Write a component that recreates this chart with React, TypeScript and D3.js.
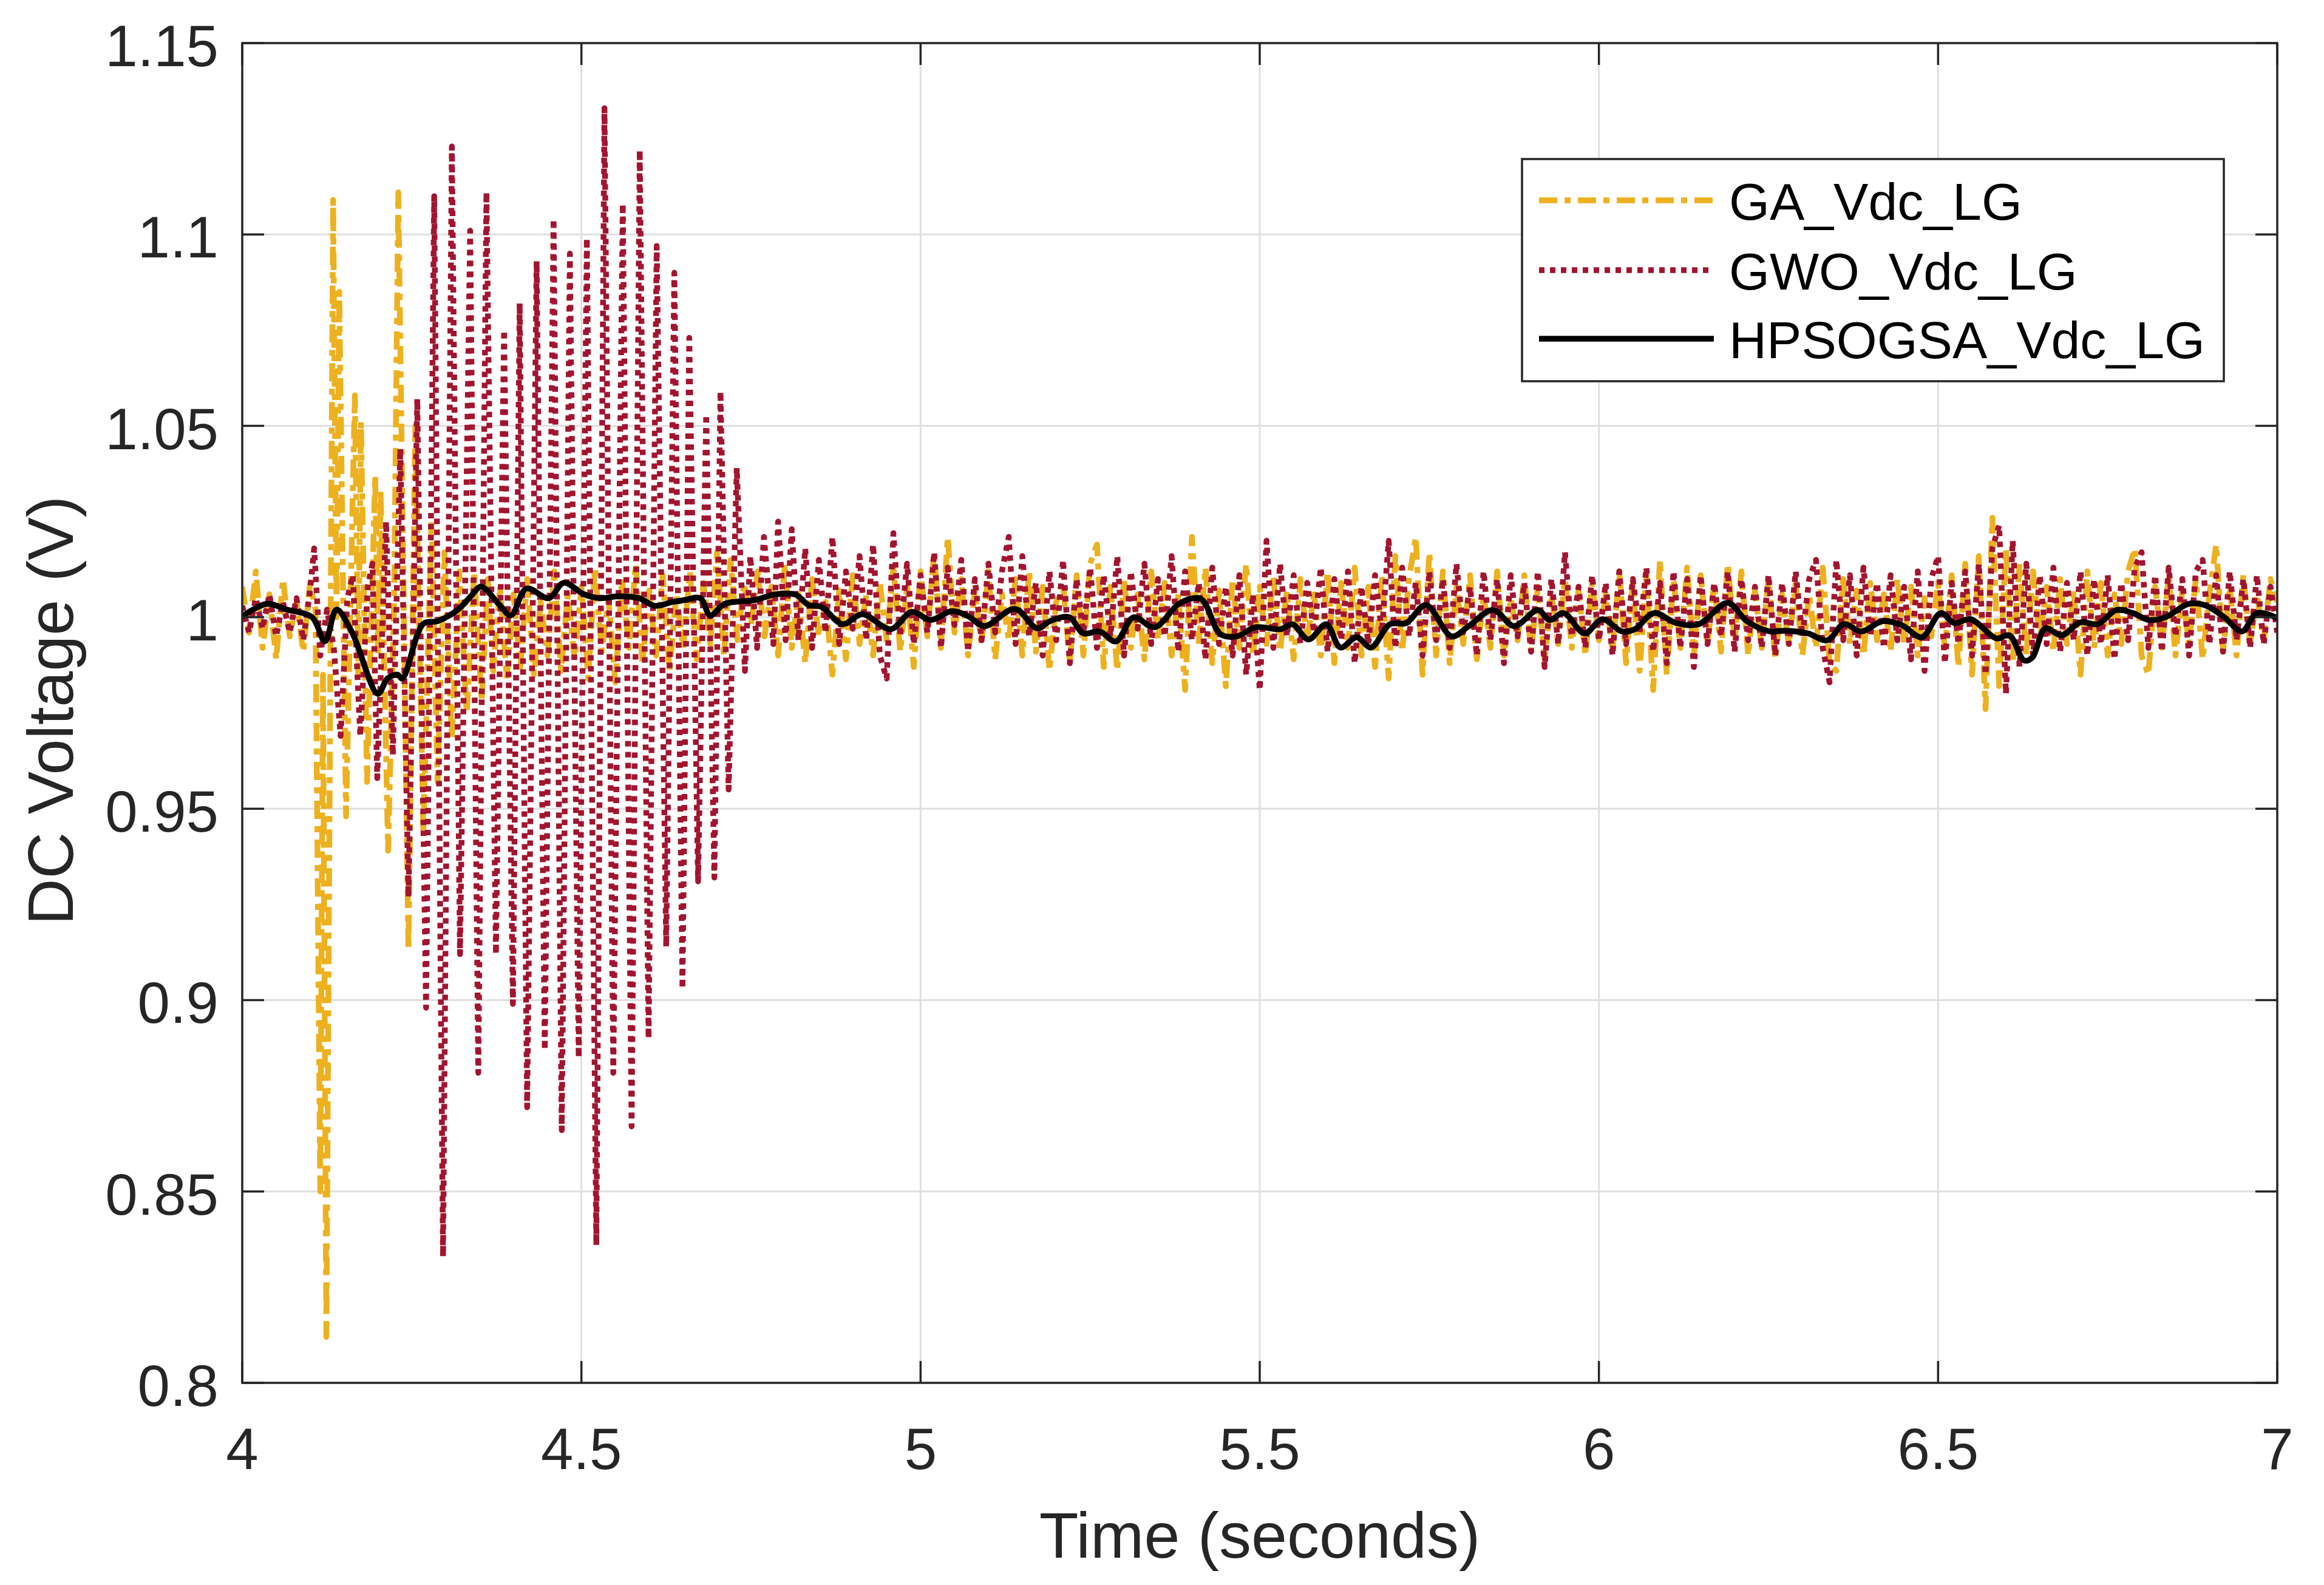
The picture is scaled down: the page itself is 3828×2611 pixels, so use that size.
import * as d3 from "d3";

// ---- axis ticks ----
const xTicks = [4, 4.5, 5, 5.5, 6, 6.5, 7];
const xTickLabels = ["4", "4.5", "5", "5.5", "6", "6.5", "7"];
const yTicks = [0.8, 0.85, 0.9, 0.95, 1, 1.05, 1.1, 1.15];
const yTickLabels = ["0.8", "0.85", "0.9", "0.95", "1", "1.05", "1.1", "1.15"];

const seriesNames = ["GA_Vdc_LG", "GWO_Vdc_LG", "HPSOGSA_Vdc_LG"];

// ---- GA (yellow, dash-dot) ----
// first part read point by point [time, volts]
const gaHead: [number, number][] = [
  [4.0, 1.008], [4.01, 0.996], [4.02, 1.012], [4.03, 0.992], [4.04, 1.006], [4.05, 0.989],
  [4.06, 1.01], [4.07, 0.995], [4.08, 1.004], [4.09, 0.991], [4.1, 1.009], [4.108, 1.002],
  [4.115, 0.85], [4.119, 0.985], [4.124, 0.812], [4.134, 1.109], [4.139, 1.0], [4.143, 1.085],
  [4.153, 0.948], [4.166, 1.058], [4.171, 0.985], [4.175, 1.051], [4.184, 0.957], [4.196, 1.037],
  [4.2, 0.99], [4.204, 1.033], [4.215, 0.939], [4.224, 1.005], [4.23, 1.111], [4.245, 0.913],
  [4.255, 1.05], [4.267, 0.944], [4.279, 1.025], [4.288, 0.957], [4.298, 1.017], [4.309, 0.968],
  [4.32, 1.012], [4.331, 0.975], [4.342, 1.012], [4.353, 0.978], [4.362, 1.01],
];
// rest sampled every 10 ms from 4.37 s to 7.00 s
const gaTailSpan: [number, number] = [4.37, 7.0];
const gaTail: number[] = [
  0.986, 1.008, 0.984, 1.006, 0.987, 1.01, 0.985, 1.004, 0.99, 1.012,
  0.986, 1.006, 0.989, 1.008, 0.984, 1.013, 0.991, 1.005, 0.983, 1.01,
  0.992, 1.014, 0.988, 1.007, 0.99, 1.011, 0.986, 1.006, 0.992, 1.012,
  0.989, 1.009, 0.993, 1.017, 0.99, 1.015, 0.994, 1.009, 0.998,
  1.012, 0.995, 1.008, 0.99, 1.014, 0.992, 1.006, 0.988, 1.01, 0.995,
  1.004, 0.985, 1.007, 0.989, 1.011, 0.993, 1.006, 0.99, 1.009, 0.994,
  1.013, 0.991, 1.008, 0.987, 1.012, 0.995, 1.017, 0.992, 1.021, 0.996,
  1.01, 0.99, 1.007, 0.993, 1.012, 0.989, 1.006, 0.994, 1.01, 0.99,
  1.012, 0.991, 1.008, 0.986, 1.004, 1.009, 0.988, 1.011, 0.99, 1.014,
  1.019, 0.987, 1.008, 0.986, 1.01, 0.992, 1.006, 0.989, 1.012, 0.994,
  1.009, 0.99, 1.006, 0.981, 1.021, 0.993, 1.013, 0.988, 1.007, 0.982,
  1.01, 0.992, 1.014, 0.99, 1.008,
  0.993, 1.011, 0.991, 1.007, 0.989, 1.01, 0.994, 1.006, 0.99, 1.012,
  0.988, 1.009, 0.992, 1.013, 0.99, 1.008, 0.987, 1.011, 0.984, 1.016,
  0.991, 1.01, 1.021, 0.985, 1.017, 0.99, 1.012, 0.988, 1.008, 0.993,
  1.011, 0.989, 1.006, 0.992, 1.012, 0.99, 1.005, 0.994, 1.011, 0.991,
  1.008, 0.989, 1.006, 0.993, 1.01, 0.992, 1.007, 0.99, 1.009, 0.994,
  1.006, 0.991, 1.012, 0.988, 1.009, 0.986, 1.011, 0.981, 1.015, 0.985,
  1.01, 0.992, 1.013, 0.99, 1.011, 0.993, 1.009, 0.991, 1.014, 0.994,
  1.012, 0.99, 1.007, 0.992, 1.01, 0.989, 1.006,
  0.993, 1.009, 0.99, 1.006, 0.992, 1.013, 0.988, 0.986, 1.01, 0.993,
  1.007, 0.99, 1.009, 0.994, 1.006, 0.991, 1.01, 0.993, 1.008, 0.99,
  1.005, 0.995, 1.009, 0.992, 1.011, 0.987, 1.014, 0.985, 1.016, 0.976,
  1.026, 0.982, 1.018, 0.988, 1.014, 0.99, 1.012, 0.994, 1.008, 0.991,
  1.01, 0.993, 1.007, 0.985, 1.012, 0.992, 1.009, 0.99, 1.006, 0.993,
  1.012, 1.018, 0.99, 0.985, 1.008, 0.992, 1.011, 0.99, 1.007, 0.993,
  1.01, 0.989, 1.006, 1.019, 0.991, 1.008, 0.99, 1.011, 0.993, 1.006,
  0.994, 1.01, 1.004,
];

// ---- GWO (red, dotted) ----
const gwoHead: [number, number][] = [
  [4.0, 1.003], [4.01, 0.996], [4.02, 1.005], [4.03, 0.997], [4.04, 1.006], [4.05, 0.995],
  [4.06, 1.004], [4.07, 0.996], [4.08, 1.005], [4.09, 0.994], [4.1, 1.007], [4.106, 1.018],
  [4.115, 0.99], [4.125, 1.002], [4.135, 0.992], [4.145, 0.969], [4.155, 1.005], [4.163, 1.011],
  [4.174, 0.969], [4.185, 1.008], [4.192, 1.014], [4.199, 0.958], [4.212, 1.025], [4.222, 0.964],
  [4.233, 1.044], [4.245, 0.927], [4.258, 1.057], [4.271, 0.898], [4.283, 1.11], [4.296, 0.833],
  [4.309, 1.123], [4.321, 0.912], [4.336, 1.101], [4.348, 0.881], [4.36, 1.111], [4.374, 0.912],
  [4.386, 1.075], [4.399, 0.899], [4.409, 1.082], [4.42, 0.872], [4.434, 1.093], [4.446, 0.887],
  [4.459, 1.104], [4.471, 0.866], [4.483, 1.095], [4.496, 0.885], [4.508, 1.099], [4.522, 0.836],
  [4.534, 1.133], [4.547, 0.881], [4.561, 1.108], [4.574, 0.867], [4.586, 1.122], [4.599, 0.89],
  [4.611, 1.097], [4.625, 0.914], [4.637, 1.09], [4.649, 0.903], [4.659, 1.073], [4.672, 0.931],
  [4.684, 1.053], [4.696, 0.932], [4.705, 1.059], [4.717, 0.955], [4.729, 1.039], [4.741, 0.986],
  [4.749, 1.016], [4.759, 0.992], [4.769, 1.021], [4.783, 0.993], [4.79, 1.025], [4.801, 0.994],
  [4.81, 1.023],
];
const gwoTailSpan: [number, number] = [4.82, 7.0];
const gwoTail: number[] = [
  0.994, 1.018, 0.992, 1.015, 0.996, 1.021, 0.993, 1.012, 0.997, 1.016,
  0.994, 1.019, 0.99, 0.984, 1.022, 0.995, 1.014, 0.993, 1.011, 0.996,
  1.017, 0.992, 1.013, 0.998, 1.015, 0.991, 1.01, 0.994, 1.014, 0.996,
  1.012, 1.021, 0.993, 1.016, 0.995, 1.009, 0.99, 1.012, 0.994, 1.015,
  0.988, 1.01, 0.996, 1.013, 0.992, 1.011, 0.995, 1.016, 0.99, 1.012,
  0.997, 1.014, 0.993, 1.01, 0.995, 1.016, 0.991, 1.012, 0.994, 1.009,
  0.989, 1.013, 0.993, 1.008, 0.99, 1.011, 0.985, 1.006, 0.981, 1.02,
  0.992, 1.014, 0.995, 1.011, 0.993, 1.009, 0.996, 1.013, 0.991, 1.01,
  0.994, 1.012, 0.988, 1.008, 0.993, 1.011, 0.996, 1.02, 0.992, 1.013,
  0.995, 1.009, 0.99, 1.012, 0.994, 1.01, 0.992, 1.014, 0.996, 1.008,
  0.99, 1.012, 0.994, 1.01, 0.988, 1.011, 0.995, 1.009, 0.991, 1.012,
  0.987, 1.01, 0.993, 1.017, 0.995, 1.008, 0.992, 1.011, 0.994, 1.009,
  0.99, 1.012, 0.993, 1.01, 0.996, 1.013, 0.991, 1.009, 0.988, 1.012,
  0.992, 1.01, 0.987, 1.011, 0.993, 1.009, 0.995, 1.012, 0.991, 1.01,
  0.994, 1.008, 0.992, 1.011, 0.99, 1.009, 0.993, 1.012, 0.995, 1.01,
  1.015, 0.992, 0.983, 1.015, 0.994, 1.011, 0.99, 1.013, 0.995, 1.009,
  0.992, 1.011, 0.994, 1.008, 0.989, 1.012, 0.986, 1.01, 1.016, 0.988,
  1.009, 0.993, 1.012, 0.99, 1.014, 0.985, 1.018, 1.024, 0.98, 1.02,
  0.987, 1.014, 0.99, 1.011, 0.993, 1.013, 0.991, 1.009, 0.994, 1.012,
  0.99, 1.01, 0.993, 1.011, 0.989, 1.009, 0.994, 1.013, 1.017, 0.992,
  1.011, 0.991, 1.013, 0.995, 1.01, 0.99, 1.012, 1.015, 0.993, 1.011,
  0.991, 1.012, 0.994, 1.01, 0.992, 1.011, 0.993, 1.008, 0.996,
];

// ---- HPSOGSA (black, solid) ----
const hpsoPoints: [number, number][] = [
  [4.0, 1.0002], [4.036, 1.0035], [4.066, 1.002], [4.103, 1.0], [4.122, 0.9937], [4.139, 1.002],
  [4.162, 0.996], [4.2, 0.98], [4.214, 0.984], [4.229, 0.985], [4.236, 0.984], [4.267, 0.9983],
  [4.288, 0.999], [4.318, 1.002], [4.337, 1.0055], [4.352, 1.008], [4.378, 1.0035], [4.396, 1.0005],
  [4.419, 1.0075], [4.452, 1.005], [4.474, 1.009], [4.504, 1.006], [4.526, 1.005], [4.556, 1.0055],
  [4.585, 1.005], [4.608, 1.003], [4.634, 1.004], [4.652, 1.0045], [4.675, 1.005], [4.69, 1.0005],
  [4.711, 1.0035], [4.756, 1.0045], [4.786, 1.006], [4.816, 1.0059], [4.835, 1.0032], [4.854, 1.0027],
  [4.885, 0.9982], [4.914, 1.0008], [4.956, 0.9969], [4.987, 1.0014], [5.015, 0.9993], [5.046, 1.0016],
  [5.07, 1.0003], [5.094, 0.9977], [5.139, 1.0022], [5.172, 0.9971], [5.191, 0.999], [5.219, 1.0],
  [5.24, 0.9958], [5.264, 0.9963], [5.288, 0.9937], [5.314, 1.0], [5.345, 0.9974], [5.383, 1.0038],
  [5.413, 1.0048], [5.442, 0.9956], [5.466, 0.995], [5.494, 0.9974], [5.531, 0.9969], [5.548, 0.9982],
  [5.572, 0.9942], [5.598, 0.9982], [5.619, 0.9921], [5.643, 0.9948], [5.664, 0.9921], [5.692, 0.9982],
  [5.716, 0.9985], [5.745, 1.0032], [5.783, 0.995], [5.806, 0.9974], [5.844, 1.0019], [5.875, 0.9977],
  [5.91, 1.0019], [5.927, 0.9993], [5.948, 1.0011], [5.979, 0.9958], [6.005, 0.9995], [6.034, 0.9963],
  [6.053, 0.9969], [6.081, 1.0011], [6.114, 0.9985], [6.147, 0.9982], [6.19, 1.0038], [6.218, 0.999],
  [6.252, 0.9963], [6.274, 0.9965], [6.308, 0.9958], [6.337, 0.994], [6.361, 0.9982], [6.387, 0.9963],
  [6.418, 0.999], [6.447, 0.9979], [6.476, 0.9948], [6.504, 1.0011], [6.524, 0.9985], [6.548, 0.9995],
  [6.586, 0.9945], [6.605, 0.9953], [6.627, 0.9887], [6.639, 0.9895], [6.658, 0.9971], [6.682, 0.9953],
  [6.71, 0.9987], [6.735, 0.9982], [6.763, 1.0019], [6.787, 1.0011], [6.811, 0.9993], [6.835, 1.0],
  [6.869, 1.0035], [6.893, 1.0032], [6.922, 1.0], [6.948, 0.9963], [6.97, 1.0011], [7.0, 0.9998],
];

const W = 3828;
const H = 2611;
const plot = { left: 399, right: 3751, top: 71, bottom: 2278 };
const FONT = "'Liberation Sans', Arial, Helvetica, sans-serif";
const AXIS_COLOR = "#262626";
const TICK_LEN = 36;

const COLORS = ["#EDB120", "#A2142F", "#000000"];
const DASHES = ["30 12 10 12", "9 9", "none"];
const LINE_W = 9.5;

function joinSeries(head: [number, number][], tail: number[], span: [number, number]): [number, number][] {
  const n = tail.length;
  const rest = tail.map((v, i) => [span[0] + (i * (span[1] - span[0])) / (n - 1), v] as [number, number]);
  return head.concat(rest);
}

export default function App() {
  const x = d3.scaleLinear().domain([4, 7]).range([plot.left, plot.right]);
  const y = d3.scaleLinear().domain([0.8, 1.15]).range([plot.bottom, plot.top]);

  const ga = joinSeries(gaHead, gaTail, gaTailSpan);
  const gwo = joinSeries(gwoHead, gwoTail, gwoTailSpan);

  const line = d3
    .line<[number, number]>()
    .x((d) => x(d[0]))
    .y((d) => y(d[1]));
  const smooth = d3
    .line<[number, number]>()
    .x((d) => x(d[0]))
    .y((d) => y(d[1]))
    .curve(d3.curveCatmullRom);

  const series = [line(ga) ?? "", line(gwo) ?? "", smooth(hpsoPoints) ?? ""];

  const legend = { x0: 2507, y0: 262, x1: 3663, y1: 628 };
  const legendRows = [330, 445, 558];

  return (
    <svg
      width={W}
      height={H}
      viewBox={`0 0 ${W} ${H}`}
      style={{ position: "absolute", left: 0, top: 0, background: "#fff" }}
    >
      <rect x={0} y={0} width={W} height={H} fill="#fff" />
      <defs>
        <clipPath id="plot-clip">
          <rect x={plot.left} y={plot.top} width={plot.right - plot.left} height={plot.bottom - plot.top} />
        </clipPath>
      </defs>

      {/* grid */}
      <g stroke="#dfdfdf" strokeWidth={3}>
        {xTicks.map((t) => (
          <line key={"gx" + t} x1={x(t)} x2={x(t)} y1={plot.top} y2={plot.bottom} />
        ))}
        {yTicks.map((t) => (
          <line key={"gy" + t} x1={plot.left} x2={plot.right} y1={y(t)} y2={y(t)} />
        ))}
      </g>

      {/* data */}
      <g clipPath="url(#plot-clip)" fill="none" strokeLinejoin="round">
        {series.map((d, i) => (
          <path
            key={seriesNames[i]}
            d={d}
            stroke={COLORS[i]}
            strokeWidth={LINE_W}
            strokeDasharray={DASHES[i]}
          />
        ))}
      </g>

      {/* box and ticks */}
      <g stroke={AXIS_COLOR} strokeWidth={3.5}>
        <rect
          x={plot.left}
          y={plot.top}
          width={plot.right - plot.left}
          height={plot.bottom - plot.top}
          fill="none"
        />
        {xTicks.map((t) => (
          <g key={"tx" + t}>
            <line x1={x(t)} x2={x(t)} y1={plot.bottom} y2={plot.bottom - TICK_LEN} />
            <line x1={x(t)} x2={x(t)} y1={plot.top} y2={plot.top + TICK_LEN} />
          </g>
        ))}
        {yTicks.map((t) => (
          <g key={"ty" + t}>
            <line x1={plot.left} x2={plot.left + TICK_LEN} y1={y(t)} y2={y(t)} />
            <line x1={plot.right} x2={plot.right - TICK_LEN} y1={y(t)} y2={y(t)} />
          </g>
        ))}
      </g>

      {/* tick labels */}
      <g fontFamily={FONT} fontSize={96} fill={AXIS_COLOR}>
        {xTicks.map((t, i) => (
          <text key={"lx" + t} x={x(t)} y={2420} textAnchor="middle">
            {xTickLabels[i]}
          </text>
        ))}
        {yTicks.map((t, i) => (
          <text key={"ly" + t} x={360} y={y(t) + 38} textAnchor="end">
            {yTickLabels[i]}
          </text>
        ))}
      </g>

      {/* axis labels */}
      <text
        x={(plot.left + plot.right) / 2}
        y={2566}
        textAnchor="middle"
        fontFamily={FONT}
        fontSize={106}
        fill={AXIS_COLOR}
      >
        Time (seconds)
      </text>
      <text
        transform={`translate(120, ${(plot.top + plot.bottom) / 2 - 4}) rotate(-90)`}
        textAnchor="middle"
        fontFamily={FONT}
        fontSize={106}
        fill={AXIS_COLOR}
      >
        DC Voltage (V)
      </text>

      {/* legend */}
      <g>
        <rect
          x={legend.x0}
          y={legend.y0}
          width={legend.x1 - legend.x0}
          height={legend.y1 - legend.y0}
          fill="#fff"
          stroke={AXIS_COLOR}
          strokeWidth={3.5}
        />
        {seriesNames.map((name, i) => (
          <g key={"lg" + name}>
            <line
              x1={2535}
              x2={2823}
              y1={legendRows[i]}
              y2={legendRows[i]}
              stroke={COLORS[i]}
              strokeWidth={LINE_W}
              strokeDasharray={DASHES[i]}
            />
            <text x={2848} y={legendRows[i] + 32} fontFamily={FONT} fontSize={86} fill="#000">
              {name}
            </text>
          </g>
        ))}
      </g>
    </svg>
  );
}
